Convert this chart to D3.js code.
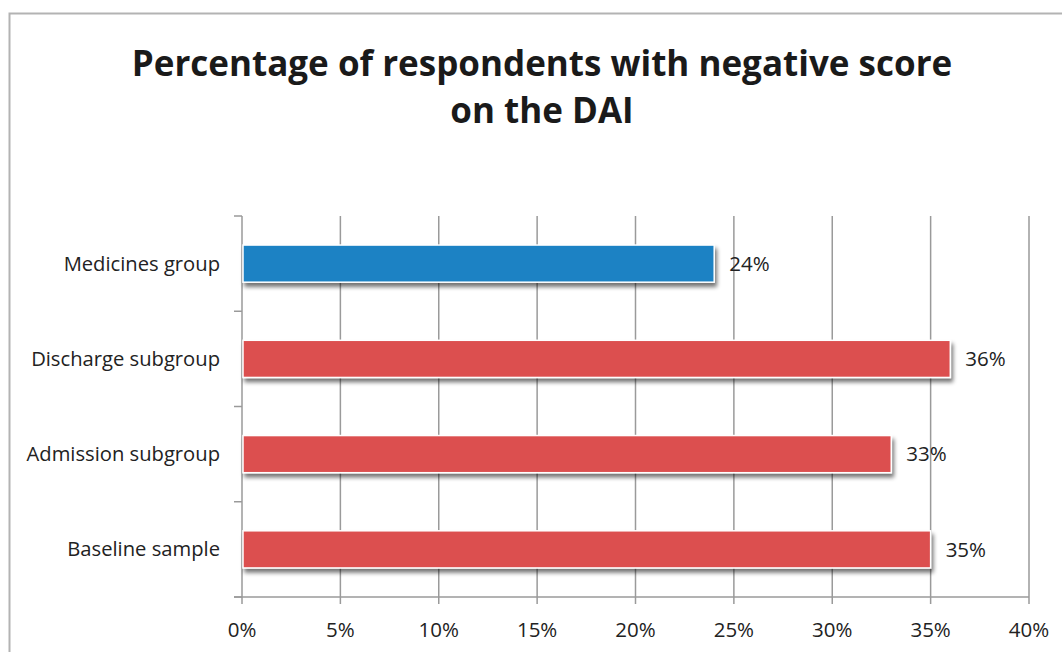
<!DOCTYPE html>
<html>
<head>
<meta charset="utf-8">
<script src="https://cdn.jsdelivr.net/npm/d3@7"></script>
<style>
  html, body { margin: 0; padding: 0; background: #fff; }
  svg { display: block; }
</style>
</head>
<body>
<div id="chart"></div>
<script>
const categories = ["Medicines group", "Discharge subgroup", "Admission subgroup", "Baseline sample"];
const values = [24, 36, 33, 35];
const barColors = ["#1b82c4", "#dc4f4f", "#dc4f4f", "#dc4f4f"];
const xTicks = [0, 5, 10, 15, 20, 25, 30, 35, 40];
const titleLines = ["Percentage of respondents with negative score", "on the DAI"];

(function () {
const W = 1062, H = 652;
const svg = d3.select("#chart").append("svg").attr("width", W).attr("height", H);

const defs = svg.append("defs");
const f = defs.append("filter").attr("id", "shadow").attr("x", "-5%").attr("y", "-20%").attr("width", "110%").attr("height", "160%");
f.append("feGaussianBlur").attr("in", "SourceAlpha").attr("stdDeviation", 2.2).attr("result", "b");
f.append("feOffset").attr("in", "b").attr("dx", 1.5).attr("dy", 4).attr("result", "o");
f.append("feComponentTransfer").attr("in", "o").attr("result", "o2")
  .append("feFuncA").attr("type", "linear").attr("slope", 0.55);
const m = f.append("feMerge");
m.append("feMergeNode").attr("in", "o2");
m.append("feMergeNode").attr("in", "SourceGraphic");

// outer border
svg.append("rect").attr("x", 9.5).attr("y", 13.5).attr("width", W).attr("height", H)
  .attr("fill", "none").attr("stroke", "#b3b3b3").attr("stroke-width", 2);

const pLeft = 242, pRight = 1029, pTop = 216, pBottom = 597;
const x = d3.scaleLinear().domain([0, 40]).range([pLeft, pRight]);
const y = d3.scaleBand().domain(categories).range([pTop, pBottom]).paddingInner(0.61).paddingOuter(0.305);

// title
const title = svg.append("text").attr("text-anchor", "middle")
  .attr("font-family", "'Open Sans', sans-serif").attr("font-weight", "bold")
  .attr("font-size", 35).attr("fill", "#1a1a1a");
titleLines.forEach((t, i) => {
  title.append("tspan").attr("x", 542).attr("y", 76 + i * 47).text(t);
});

// gridlines
svg.append("g").selectAll("line").data(xTicks.slice(1)).join("line")
  .attr("x1", d => x(d)).attr("x2", d => x(d))
  .attr("y1", pTop).attr("y2", pBottom + 7)
  .attr("stroke", "#9a9a9a").attr("stroke-width", 1.5);

// x axis line and ticks
svg.append("line").attr("x1", pLeft - 8).attr("x2", pRight).attr("y1", pBottom).attr("y2", pBottom)
  .attr("stroke", "#9a9a9a").attr("stroke-width", 1.5);
svg.append("line").attr("x1", pLeft).attr("x2", pLeft).attr("y1", pTop).attr("y2", pBottom + 7)
  .attr("stroke", "#9a9a9a").attr("stroke-width", 1.5);

// y ticks at band boundaries
const yBounds = categories.map(c => y(c) - y.step() * y.paddingInner() / 2);
yBounds.push(pBottom);
svg.append("g").selectAll("line").data(yBounds).join("line")
  .attr("x1", pLeft - 8).attr("x2", pLeft).attr("y1", d => d).attr("y2", d => d)
  .attr("stroke", "#9a9a9a").attr("stroke-width", 1.5);

// x tick labels
svg.append("g").selectAll("text").data(xTicks).join("text")
  .attr("x", d => x(d)).attr("y", 637).attr("text-anchor", "middle")
  .attr("font-family", "'Open Sans', sans-serif").attr("font-size", 20.5).attr("fill", "#222")
  .text(d => d + "%");

// category labels
svg.append("g").selectAll("text").data(categories).join("text")
  .attr("x", 220).attr("y", d => y(d) + y.bandwidth() / 2).attr("dy", "0.35em")
  .attr("text-anchor", "end")
  .attr("font-family", "'Open Sans', sans-serif").attr("font-size", 20.2).attr("fill", "#222")
  .text(d => d);

// bars
svg.append("g").selectAll("rect").data(categories).join("rect")
  .attr("x", x(0) + 1).attr("y", d => y(d))
  .attr("width", (d, i) => x(values[i]) - x(0) - 1)
  .attr("height", y.bandwidth())
  .attr("fill", (d, i) => barColors[i])
  .attr("stroke", "#fff").attr("stroke-width", 1.5)
  .attr("filter", "url(#shadow)");

// value labels
svg.append("g").selectAll("text").data(categories).join("text")
  .attr("x", (d, i) => x(values[i]) + 15).attr("y", d => y(d) + y.bandwidth() / 2).attr("dy", "0.35em")
  .attr("font-family", "'Open Sans', sans-serif").attr("font-size", 20.5).attr("fill", "#222")
  .text((d, i) => values[i] + "%");
})();
</script>
</body>
</html>
